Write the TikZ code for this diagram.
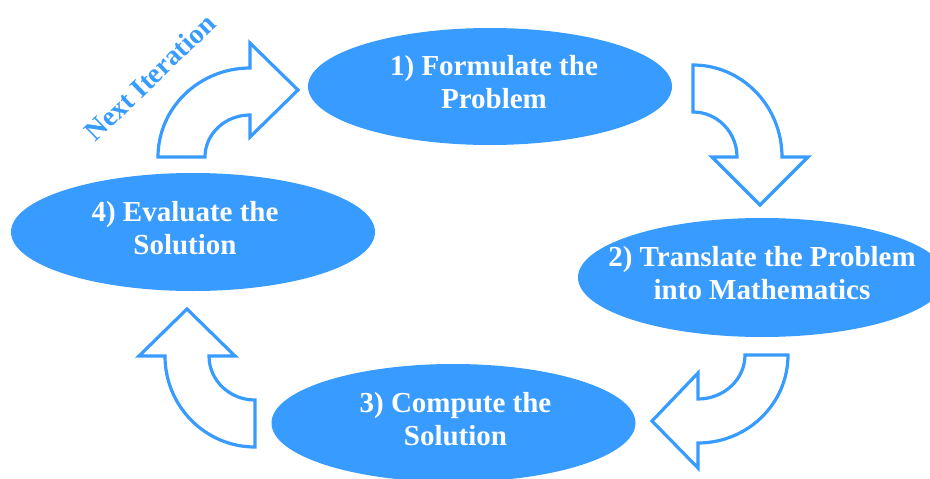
\documentclass[tikz,border=0pt]{standalone}
\usepackage{fontspec}
\setmainfont{Liberation Serif}
\usetikzlibrary{shapes.geometric}
\definecolor{stageblue}{RGB}{56,155,255}
\begin{document}
\begin{tikzpicture}[x=1pt,y=-1pt,
  stage/.style={ellipse,fill=stageblue,draw=none,inner sep=0pt},
  stagetext/.style={text=white,align=center,
    font=\fontsize{29}{33}\selectfont\bfseries,inner sep=0pt,yshift=4pt},
  bentarrow/.style={draw=stageblue,fill=white,line width=3.2pt,line join=miter}]
\useasboundingbox (0,0) rectangle (930,479);
\clip (0,0) rectangle (930,479);

% the four stages of the cycle
\node[stage,minimum width=364pt,minimum height=117pt] (formulate) at (490,86.5) {};
\node[stage,minimum width=368pt,minimum height=119pt] (translate) at (762,277.5) {};
\node[stage,minimum width=364pt,minimum height=118pt] (compute) at (453.5,423) {};
\node[stage,minimum width=364pt,minimum height=118pt] (evaluate) at (193,232) {};

\node[stagetext,xshift=4pt] (formulate-text) at (formulate.center) {1) Formulate the\\Problem};
\node[stagetext] (translate-text) at (translate.center) {2) Translate the Problem\\into Mathematics};
\node[stagetext,xshift=2pt] (compute-text) at (compute.center) {3) Compute the\\Solution};
\node[stagetext,xshift=-8pt] (evaluate-text) at (evaluate.center) {4) Evaluate the\\Solution};

% bent block arrows between the stages
% evaluate -> formulate
\draw[bentarrow] (158,157) .. controls (158,107.9) and (199.2,68) .. (250,68)
  -- (250,43) -- (298,90) -- (250,137) -- (250,115)
  .. controls (225.2,115) and (205,133.8) .. (205,157) -- cycle;
% formulate -> translate
\draw[bentarrow] (693,65) .. controls (742.1,65) and (782,106.2) .. (782,157)
  -- (808,157) -- (760,205) -- (712,157) -- (737,157)
  .. controls (737,132.2) and (717.3,112) .. (693,112) -- cycle;
% translate -> compute
\draw[bentarrow] (788,355) .. controls (788,403.6) and (747.7,443) .. (698,443)
  -- (698,468) -- (652,421) -- (698,373) -- (698,399)
  .. controls (723.9,399) and (745,379.3) .. (745,355) -- cycle;
% compute -> evaluate
\draw[bentarrow] (255,447) .. controls (205.3,447) and (165,406.2) .. (165,356)
  -- (139,356) -- (187,309) -- (235,356) -- (209,356)
  .. controls (209,380.3) and (229.6,400) .. (255,400) -- cycle;

\node[text=stageblue,font=\fontsize{28}{32}\selectfont\bfseries,rotate=44,inner sep=0pt]
  (nextiter) at (150,77.5) {Next Iteration};
\end{tikzpicture}
\end{document}
